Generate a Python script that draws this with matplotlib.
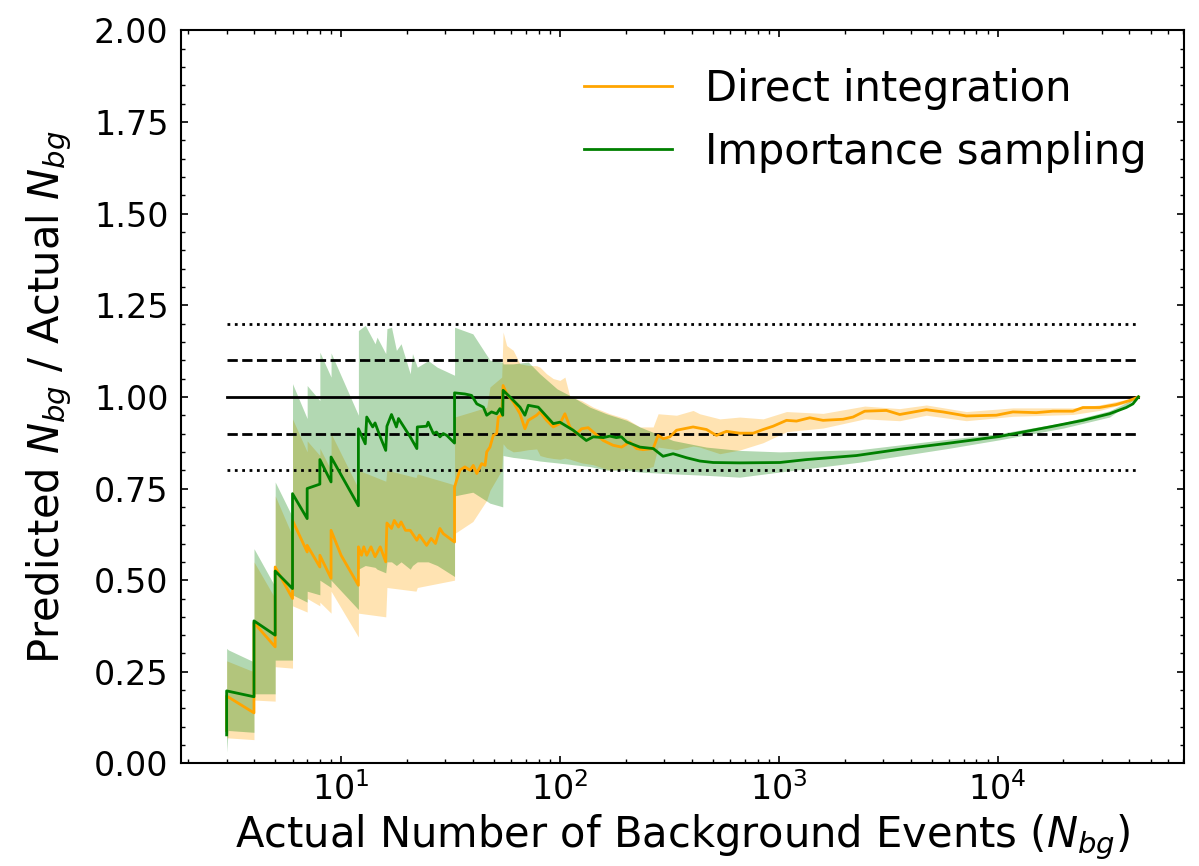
import matplotlib
matplotlib.use("Agg")
import matplotlib.pyplot as plt
from matplotlib.ticker import MultipleLocator, FormatStrFormatter

# Importance sampling: ratio of predicted to actual background count
is_n = [3, 3, 4, 4, 5, 5, 6, 6, 7, 7, 8, 8, 9, 9, 12, 12, 12.9, 13.1, 13.95, 14.3,
        15.1, 16.0, 16.2, 17.0, 17.9, 18.3, 20.7, 22.2, 22.3, 24.6, 25.0, 26.4, 27.3,
        28.3, 29.3, 30.4, 33, 33, 36.8, 39.5, 41.7, 44.7, 46.3, 48.7, 51.4, 53.2, 54.8,
        55, 60.2, 65.7, 69.2, 71.7, 79.6, 93.2, 100, 115, 132, 142, 158, 169, 181, 191,
        202, 232, 267, 296, 329, 379, 436, 501, 663, 1011, 1338, 2264, 3569, 6035,
        10210, 17270, 24520, 32460, 38690, 41520, 44000]
is_ratio = [0.078, 0.198, 0.182, 0.389, 0.350, 0.525, 0.477, 0.736, 0.668, 0.750, 0.762,
            0.829, 0.768, 0.836, 0.703, 0.913, 0.872, 0.945, 0.918, 0.929, 0.891, 0.854,
            0.920, 0.952, 0.918, 0.941, 0.891, 0.859, 0.918, 0.920, 0.931, 0.900, 0.904,
            0.891, 0.900, 0.895, 0.874, 1.011, 1.008, 1.004, 0.981, 0.972, 0.950, 0.959,
            0.954, 0.968, 0.950, 1.018, 0.995, 0.972, 0.950, 0.977, 0.972, 0.927, 0.931,
            0.909, 0.881, 0.891, 0.889, 0.893, 0.889, 0.891, 0.877, 0.863, 0.859, 0.838,
            0.845, 0.834, 0.825, 0.821, 0.820, 0.821, 0.829, 0.840, 0.857, 0.874, 0.892,
            0.918, 0.936, 0.954, 0.971, 0.981, 1.000]

is_band_n = [3, 3.05, 4, 4, 5, 5, 6, 6, 7, 7, 8, 8, 9, 9, 12, 12, 12.9, 14.3, 14.6, 16,
             16.2, 17.0, 17.9, 18.8, 20.7, 21.2, 22.3, 25, 27.5, 33, 33, 40, 47.9, 54.8,
             55, 61, 71.7, 81, 97, 115, 137, 163, 202, 232, 329, 467, 663, 1011, 2344,
             6035, 10210, 20000, 32460, 44000]
is_lo = [0.03, 0.09, 0.085, 0.19, 0.19, 0.282, 0.282, 0.46, 0.44, 0.47, 0.46, 0.50, 0.48,
         0.50, 0.42, 0.53, 0.54, 0.535, 0.53, 0.52, 0.55, 0.55, 0.54, 0.55, 0.53, 0.54,
         0.55, 0.55, 0.54, 0.51, 0.73, 0.74, 0.71, 0.70, 0.84, 0.835, 0.83, 0.825, 0.82,
         0.815, 0.81, 0.80, 0.80, 0.795, 0.79, 0.786, 0.781, 0.795, 0.822, 0.86, 0.883,
         0.915, 0.945, 1.000]
is_hi = [0.314, 0.31, 0.277, 0.586, 0.482, 0.768, 0.672, 1.036, 0.941, 1.031, 0.990,
         1.122, 1.054, 1.12, 0.950, 1.181, 1.195, 1.145, 1.163, 1.118, 1.186, 1.190,
         1.127, 1.145, 1.063, 1.118, 1.081, 1.099, 1.081, 1.059, 1.190, 1.172, 1.100,
         1.095, 1.090, 1.090, 1.095, 1.063, 1.022, 0.999, 0.972, 0.954, 0.936, 0.918,
         0.881, 0.863, 0.854, 0.850, 0.856, 0.885, 0.900, 0.930, 0.962, 1.000]

# Direct integration
di_n = [3, 3, 4, 4, 5, 5, 6, 6, 7, 7, 8, 8, 9, 9, 10, 12, 12, 12.4, 12.7, 13.1, 13.7,
        14.3, 15.1, 16, 16.2, 17.0, 17.5, 18.3, 18.8, 19.7, 20.7, 22.2, 22.8, 24.6, 25.8,
        27.0, 28.3, 29.3, 33, 33, 33.7, 34.9, 36.8, 38.8, 40.2, 41.7, 43.9, 45.5, 46.3,
        47.9, 49.6, 51.4, 52.3, 54.2, 55, 57.1, 61.2, 65.7, 69.2, 71.7, 78.3, 81.1, 86.9,
        93.2, 100, 105.4, 111.1, 119.2, 125.6, 134.6, 142, 157.7, 175, 191.3, 208.8, 224,
        240, 266.6, 281, 296.4, 318, 341, 406, 467.5, 519, 577, 663, 764, 848, 942, 1085,
        1205, 1386, 1593, 1967, 2184, 2471, 3104, 3569, 4725, 5625, 7194, 9860, 11750,
        15020, 17880, 22080, 24520, 29230, 34830, 40080, 44000]
di_ratio = [0.09, 0.184, 0.138, 0.384, 0.318, 0.536, 0.450, 0.663, 0.577, 0.595, 0.536,
            0.568, 0.505, 0.636, 0.568, 0.486, 0.591, 0.568, 0.591, 0.568, 0.591, 0.564,
            0.591, 0.550, 0.656, 0.641, 0.663, 0.645, 0.659, 0.636, 0.636, 0.609, 0.623,
            0.595, 0.614, 0.600, 0.641, 0.627, 0.604, 0.754, 0.772, 0.800, 0.809, 0.800,
            0.813, 0.791, 0.818, 0.813, 0.850, 0.863, 0.895, 0.900, 0.945, 0.950, 1.031,
            1.009, 0.986, 0.954, 0.913, 0.936, 0.950, 0.959, 0.936, 0.918, 0.927, 0.954,
            0.918, 0.900, 0.913, 0.916, 0.904, 0.881, 0.868, 0.863, 0.877, 0.859, 0.856,
            0.859, 0.895, 0.886, 0.891, 0.909, 0.918, 0.911, 0.895, 0.906, 0.901, 0.901,
            0.911, 0.920, 0.936, 0.934, 0.943, 0.936, 0.939, 0.945, 0.961, 0.963, 0.952,
            0.965, 0.959, 0.948, 0.950, 0.959, 0.957, 0.961, 0.961, 0.971, 0.971, 0.979,
            0.990, 1.000]

di_band_n = [3, 4, 4, 5, 5, 6, 6, 7, 7, 8, 8, 9, 9, 12, 12, 16, 16.2, 22, 22.3, 33, 33,
             40, 46.3, 47.9, 54.2, 55, 57.1, 61.2, 65.7, 71.7, 78.3, 81.1, 86.9, 93.2, 100,
             105.4, 111.1, 125.6, 142, 169, 201.6, 232, 266.6, 281, 341, 406, 435, 538, 663,
             848, 1085, 1593, 2471, 3569, 4725, 7194, 11750, 22080, 29230, 40080, 44000]
di_lo = [0.07, 0.065, 0.173, 0.17, 0.264, 0.26, 0.43, 0.413, 0.45, 0.43, 0.44, 0.41, 0.47,
         0.345, 0.41, 0.40, 0.48, 0.47, 0.48, 0.50, 0.627, 0.66, 0.718, 0.745, 0.80, 0.872,
         0.86, 0.85, 0.852, 0.856, 0.858, 0.84, 0.835, 0.832, 0.83, 0.833, 0.83, 0.82,
         0.815, 0.80, 0.805, 0.80, 0.81, 0.863, 0.856, 0.866, 0.863, 0.845, 0.855, 0.875,
         0.905, 0.915, 0.94, 0.935, 0.95, 0.935, 0.947, 0.952, 0.963, 0.985, 1.000]
di_hi = [0.28, 0.25, 0.55, 0.45, 0.73, 0.62, 0.94, 0.85, 0.88, 0.84, 0.86, 0.80, 0.90,
         0.75, 0.80, 0.77, 0.80, 0.78, 0.79, 0.76, 0.945, 0.96, 0.972, 1.027, 1.054, 1.177,
         1.14, 1.127, 1.09, 1.086, 1.085, 1.081, 1.063, 1.05, 1.045, 1.054, 1.0, 0.99,
         0.972, 0.954, 0.94, 0.918, 0.918, 0.954, 0.95, 0.963, 0.954, 0.94, 0.945, 0.94,
         0.96, 0.955, 0.975, 0.968, 0.978, 0.96, 0.97, 0.97, 0.978, 0.995, 1.000]

# Reference levels: exact agreement, +/-10 %, +/-20 %
ref_levels = [1.2, 1.1, 1.0, 0.9, 0.8]
ref_styles = [":", "--", "-", "--", ":"]

fig = plt.figure(figsize=(11.99, 8.66), dpi=100)
ax = fig.add_axes([0.151, 0.1184, 0.8365, 0.8466])

for lvl, ls in zip(ref_levels, ref_styles):
    ax.plot([is_n[0], is_n[-1]], [lvl, lvl], color="black", ls=ls, lw=2)

ax.fill_between(di_band_n, di_lo, di_hi, color="orange", alpha=0.3, lw=0)
ax.fill_between(is_band_n, is_lo, is_hi, color="green", alpha=0.3, lw=0)
ax.plot(di_n, di_ratio, color="orange", lw=2, label="Direct integration")
ax.plot(is_n, is_ratio, color="green", lw=2, label="Importance sampling")

ax.set_xscale("log")
ax.set_ylim(0, 2)
ax.yaxis.set_major_locator(MultipleLocator(0.25))
ax.yaxis.set_minor_locator(MultipleLocator(0.05))
ax.yaxis.set_major_formatter(FormatStrFormatter("%.2f"))

ax.tick_params(which="both", direction="in", top=True, right=True, labelsize=24)
ax.tick_params(which="major", length=5, width=1.2)
ax.tick_params(which="minor", length=3, width=1)
ax.tick_params(axis="y", which="major", pad=9)
ax.tick_params(axis="x", which="major", pad=6)
for sp in ax.spines.values():
    sp.set_linewidth(1.5)

ax.set_xlabel("Actual Number of Background Events ($N_{bg}$)", fontsize=30)
ax.set_ylabel("Predicted $N_{bg}$ / Actual $N_{bg}$", fontsize=30, labelpad=14)
ax.legend(loc="upper right", frameon=False, fontsize=30, handlelength=2.1)

fig.savefig("out.png", dpi=100)
